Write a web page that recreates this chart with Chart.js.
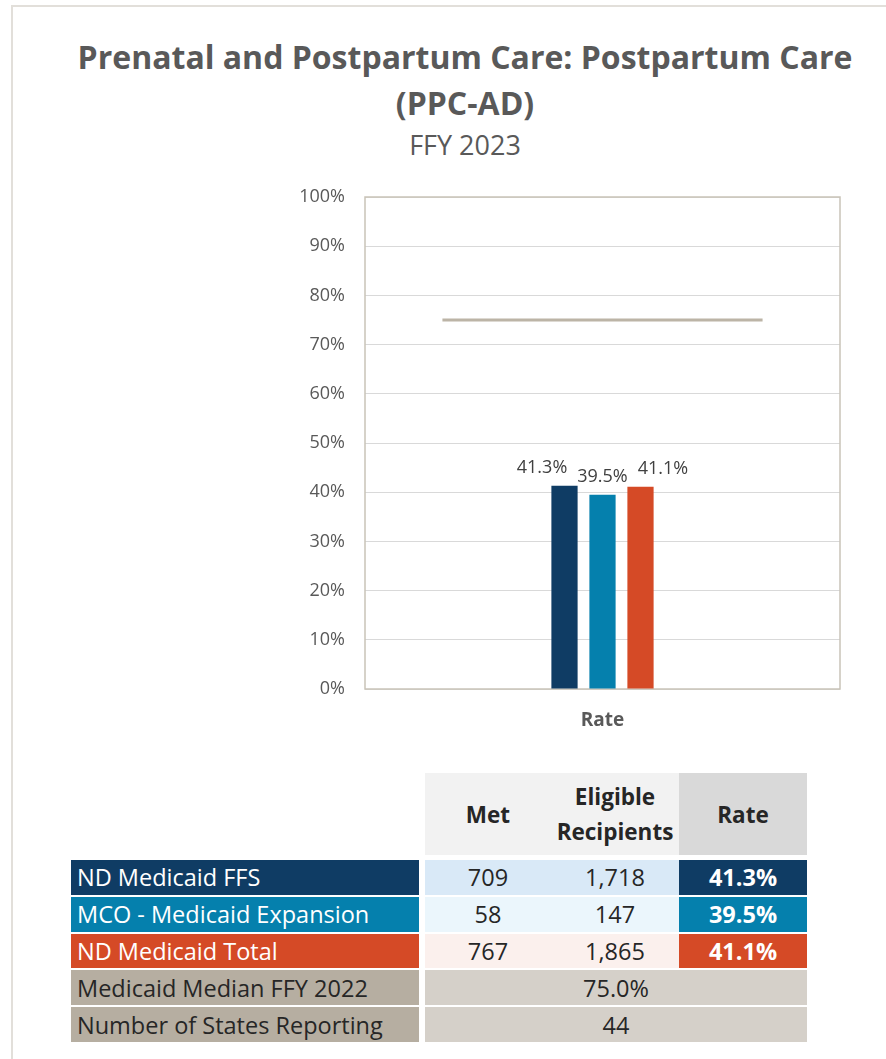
<!DOCTYPE html>
<html>
<head>
<meta charset="utf-8">
<script src="https://cdn.jsdelivr.net/npm/chart.js@4.4.1/dist/chart.umd.min.js"></script>
<style>
  html, body { margin: 0; padding: 0; background: #ffffff; }
  body { width: 886px; height: 1059px; position: relative; overflow: hidden; font-family: "Open Sans", "Noto Sans", sans-serif; }
  #frame { position: absolute; left: 11px; top: 5px; width: 960px; height: 1200px; border: 2px solid #e2dfda; box-sizing: border-box; }
  #title { position: absolute; left: 65px; width: 800px; top: 34px; text-align: center; color: #595959; font-weight: 700; font-size: 32px; line-height: 46px; }
  #subtitle { position: absolute; left: 65px; width: 800px; top: 127px; text-align: center; color: #595959; font-size: 27px; line-height: 36px; }
  #chartBox { position: absolute; left: 280px; top: 185px; width: 570px; height: 560px; }
  #tbl { position: absolute; left: 71px; top: 773px; border-collapse: separate; border-spacing: 0; font-size: 23.5px; color: #262626; }
  #tbl td { padding: 0; height: 36.8px; line-height: 30px; border-bottom: 2px solid #fff; box-sizing: border-box; white-space: nowrap; }
  #tbl td.lab { width: 348px; padding-left: 6px; color: #fff; }
  #tbl td.sp { width: 6px; background: #fff; }
  #tbl td.c1 { width: 126px; text-align: center; }
  #tbl td.c2 { width: 128px; text-align: center; }
  #tbl td.c3 { width: 128px; text-align: center; color: #fff; font-weight: 700; }
  #tbl tr.head td { height: 87px; border-bottom: 5px solid #fff; font-weight: 700; font-size: 22.5px; line-height: 35px; }
  #tbl tr.head td.h { background: #f2f2f2; color: #262626; }
  #tbl tr.head td.hr { background: #d9d9d9; color: #262626; }
</style>
</head>
<body>
<div id="frame"></div>
<div id="title">Prenatal and Postpartum Care: Postpartum Care<br>(PPC-AD)</div>
<div id="subtitle">FFY 2023</div>
<div id="chartBox"><canvas id="c"></canvas></div>
<table id="tbl"></table>
<script>
// ---- data ----
const categories = ['Rate'];
const seriesNames = ['ND Medicaid FFS', 'MCO - Medicaid Expansion', 'ND Medicaid Total'];
const seriesColors = ['#0f3c64', '#0580ad', '#d54a26'];
const rowTints = ['#d9e9f7', '#ebf6fc', '#fbf0ed'];
const rates = [41.3, 39.5, 41.1];
const met = [709, 58, 767];
const eligible = [1718, 147, 1865];
const medianLabel = 'Medicaid Median FFY 2022';
const medianValue = 75.0;
const statesLabel = 'Number of States Reporting';
const statesReporting = 44;
const yTickValues = [0, 10, 20, 30, 40, 50, 60, 70, 80, 90, 100];
const tableHeaders = ['Met', 'Eligible<br>Recipients', 'Rate'];

// ---- layout constants (not data) ----
const categoryIndex = categories.map((c, i) => i);   // category positions on the x axis
const medianSpan = 0.674;                            // median line half-length, in half-category units

// ---- table ----
const tbl = document.getElementById('tbl');
let html = '<tr class="head"><td class="lab" style="background:#fff"></td><td class="sp"></td>' +
  '<td class="c1 h">' + tableHeaders[0] + '</td><td class="c2 h">' + tableHeaders[1] + '</td><td class="c3 hr">' + tableHeaders[2] + '</td></tr>';
seriesNames.forEach((n, i) => {
  html += '<tr><td class="lab" style="background:' + seriesColors[i] + '">' + n + '</td><td class="sp"></td>' +
    '<td class="c1" style="background:' + rowTints[i] + '">' + met[i].toLocaleString('en-US') + '</td>' +
    '<td class="c2" style="background:' + rowTints[i] + '">' + eligible[i].toLocaleString('en-US') + '</td>' +
    '<td class="c3" style="background:' + seriesColors[i] + '">' + rates[i].toFixed(1) + '%</td></tr>';
});
html += '<tr><td class="lab" style="background:#b6aea1;color:#262626">' + medianLabel + '</td><td class="sp"></td>' +
  '<td colspan="3" style="background:#d5d0c9;text-align:center">' + medianValue.toFixed(1) + '%</td></tr>';
html += '<tr><td class="lab" style="background:#b6aea1;color:#262626">' + statesLabel + '</td><td class="sp"></td>' +
  '<td colspan="3" style="background:#d5d0c9;text-align:center">' + statesReporting + '</td></tr>';
tbl.innerHTML = html;

// ---- chart ----
const frameColor = '#c9c3b8';
const framePlugin = {
  id: 'frame',
  beforeDatasetsDraw(chart) {
    const a = chart.chartArea, ctx = chart.ctx;
    ctx.save();
    ctx.strokeStyle = frameColor;
    ctx.lineWidth = 1.5;
    ctx.strokeRect(a.left, a.top, a.right - a.left, a.bottom - a.top);
    ctx.restore();
  }
};
const labelPlugin = {
  id: 'barLabels',
  afterDatasetsDraw(chart) {
    const ctx = chart.ctx;
    ctx.save();
    ctx.font = '18px "Open Sans", sans-serif';
    ctx.fillStyle = '#404040';
    ctx.textAlign = 'center';
    ctx.textBaseline = 'alphabetic';
    const bars = [];
    chart.data.datasets.forEach((ds, di) => {
      if (ds.type !== 'bar') return;
      const el = chart.getDatasetMeta(di).data[0];
      bars.push({ x: el.x, y: el.y, text: ds.data[0].y.toFixed(1) + '%' });
    });
    // spread labels so they do not overlap (like Excel)
    const widths = bars.map(b => ctx.measureText(b.text).width);
    const gap = 10;
    const mid = bars.length > 0 ? (bars[0].x + bars[bars.length - 1].x) / 2 : 0;
    const total = widths.reduce((s, w) => s + w, 0) + gap * (bars.length - 1);
    let cx = mid - total / 2;
    bars.forEach((b, i) => {
      const x = cx + widths[i] / 2;
      cx += widths[i] + gap;
      ctx.fillText(b.text, x, b.y - 13);
    });
    ctx.restore();
  }
};

const datasets = seriesNames.map((n, i) => ({
  type: 'bar',
  label: n,
  data: categoryIndex.map(ci => ({ x: ci, y: rates[i] })),
  backgroundColor: seriesColors[i],
  categoryPercentage: 0.24,
  barPercentage: 0.69,
  order: 2
}));
datasets.push({
  type: 'line',
  label: medianLabel,
  data: [{ x: categoryIndex[0] - medianSpan, y: medianValue }, { x: categoryIndex[0] + medianSpan, y: medianValue }],
  borderColor: '#bcb4a6',
  borderWidth: 3,
  pointRadius: 0,
  fill: false,
  order: 1
});

new Chart(document.getElementById('c'), {
  type: 'bar',
  data: { datasets },
  plugins: [framePlugin, labelPlugin],
  options: {
    responsive: true,
    maintainAspectRatio: false,
    animation: false,
    events: [],
    layout: { padding: { top: 12, right: 10, left: 0, bottom: 0 } },
    plugins: { legend: { display: false }, tooltip: { enabled: false }, title: { display: false } },
    scales: {
      x: {
        type: 'linear',
        min: categoryIndex[0] - 1,
        max: categoryIndex[categoryIndex.length - 1] + 1,
        offset: false,
        grid: { display: false, drawTicks: false, offset: false },
        border: { display: false },
        afterBuildTicks(s) { s.ticks = categoryIndex.map(v => ({ value: v })); },
        ticks: {
          autoSkip: false, maxRotation: 0, padding: 20, color: '#595959',
          font: { family: '"Open Sans", sans-serif', size: 19, weight: 'bold' },
          callback: (v, i) => categories[i]
        },
        afterFit(s) { s.height = 56; s.paddingLeft = 0; s.paddingRight = 0; }
      },
      y: {
        min: 0,
        max: 100,
        afterBuildTicks(s) { s.ticks = yTickValues.map(v => ({ value: v })); },
        grid: { color: '#d9d9d9', lineWidth: 1, drawTicks: false },
        border: { display: false },
        ticks: { padding: 20, color: '#595959', font: { family: '"Open Sans", sans-serif', size: 18 }, callback: v => v + '%' },
        afterFit(s) { s.width = 85; s.paddingTop = 0; s.paddingBottom = 0; }
      }
    }
  }
});
</script>
</body>
</html>
